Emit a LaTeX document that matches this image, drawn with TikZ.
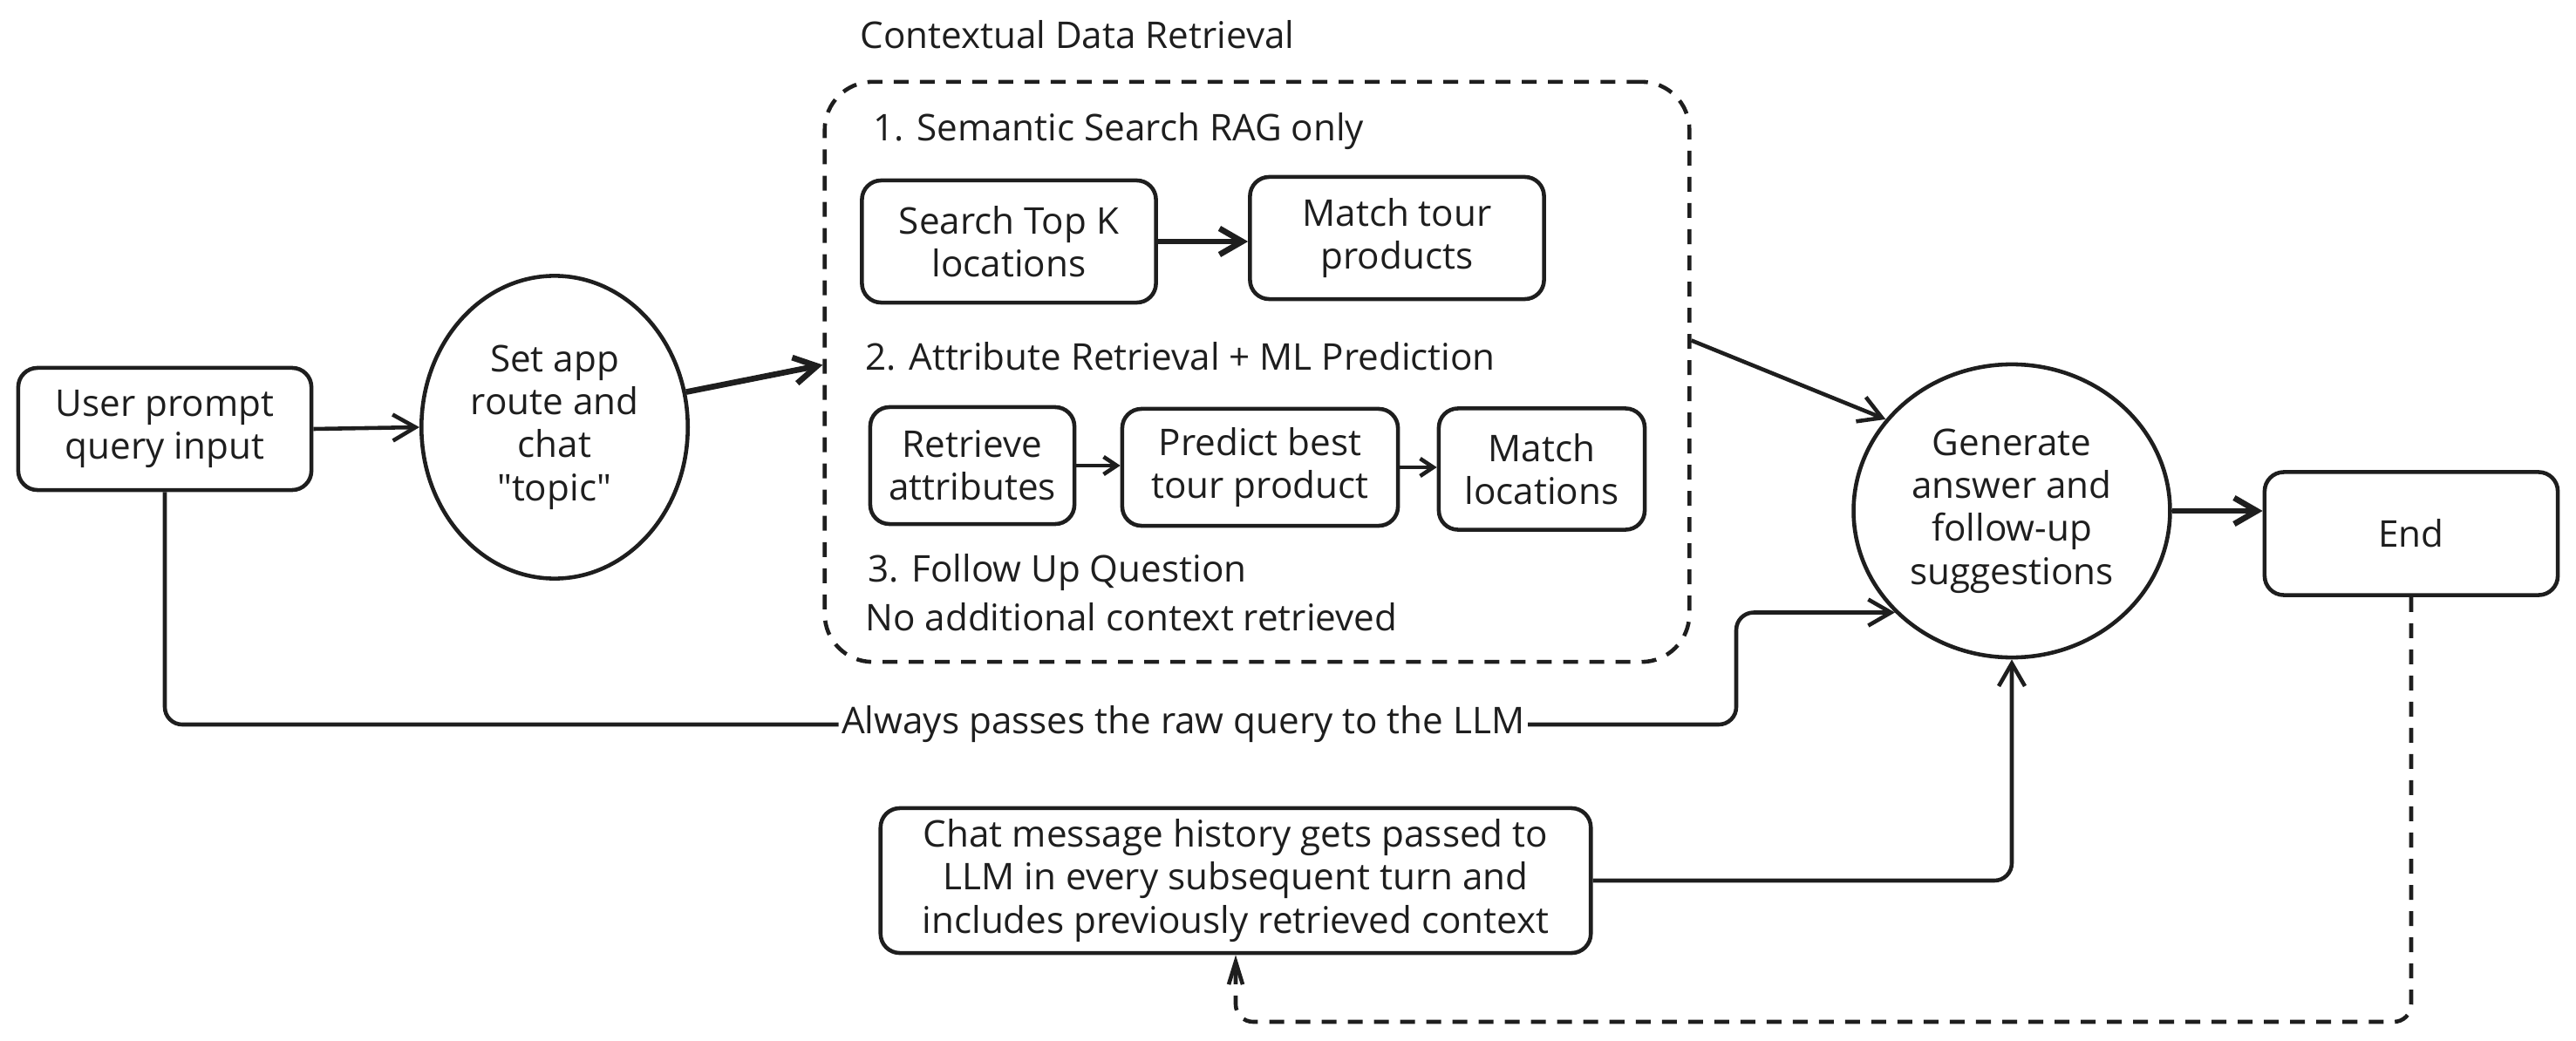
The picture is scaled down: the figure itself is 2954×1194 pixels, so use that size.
\documentclass[tikz,border=0pt]{standalone}
\usepackage{fontspec}
\setmainfont{Open Sans}[Ligatures=TeXOff]
\usetikzlibrary{arrows.meta,shapes.geometric,positioning}
\definecolor{ink}{HTML}{1E1E1E}

\begin{document}
\begin{tikzpicture}[x=0.01cm, y=-0.01cm,
		every node/.style={font=\fontsize{12}{14}\selectfont, text=ink},
		box/.style={draw=ink, line width=1.3pt, rounded corners=0.22cm, align=center, inner sep=2pt},
		group/.style={draw=ink, line width=1.3pt, dash pattern=on 0.17cm off 0.13cm, rounded corners=0.55cm},
		conn/.style={draw=ink, line width=1.3pt, -{Straight Barb[length=0.26cm,width=0.3cm]}},
		bold/.style={conn, line width=1.9pt},
		small/.style={draw=ink, line width=1.3pt, -{Straight Barb[length=0.15cm,width=0.2cm]}},
		dashline/.style={draw=ink, line width=1.3pt, dash pattern=on 0.17cm off 0.13cm, -{Straight Barb[length=0.26cm,width=0.16cm]}}]
		\useasboundingbox (0,0) rectangle (2954,1194);
		\node [box, minimum width=3.36cm, minimum height=1.4cm] (user) at (189,492) {User prompt\\query input};
		\node [ellipse, draw=ink, line width=1.3pt, minimum width=3.0cm, minimum height=3.47cm, align=center] (route) at (636,490) {Set app\\route and\\chat\\"topic"};
		\node [group, minimum width=9.91cm, minimum height=6.65cm] (ctx) at (1441.5,426.5) {};
		\node [anchor=west] (ctxtitle) at (974,40) {Contextual Data Retrieval};
		\node [anchor=west] (sem) at (989,151) {1. Semantic Search RAG only};
		\node [box, minimum width=3.37cm, minimum height=1.4cm] (topk) at (1157,277) {Search Top K\\locations};
		\node [box, minimum width=3.37cm, minimum height=1.4cm] (tours) at (1602,273) {Match tour\\products};
		\node [anchor=west] (attr) at (980,409) {2. Attribute Retrieval + ML Prediction};
		\node [box, minimum width=2.34cm, minimum height=1.34cm] (attrs) at (1115,534) {Retrieve\\attributes};
		\node [box, minimum width=3.16cm, minimum height=1.34cm] (predict) at (1445,536) {Predict best\\tour product};
		\node [box, minimum width=2.36cm, minimum height=1.39cm] (locs) at (1768,538) {Match\\locations};
		\node [anchor=west] (follow) at (983,657) {3. Follow Up Question};
		\node [anchor=west] (nocontext) at (980,708) {No additional context retrieved};
		\node [ellipse, draw=ink, line width=1.3pt, minimum width=3.58cm, minimum height=3.36cm, align=center] (answer) at (2307,586) {Generate\\answer and\\follow-up\\suggestions};
		\node [box, minimum width=3.36cm, minimum height=1.41cm] (end) at (2765,612) {End};
		\node [box, minimum width=8.14cm, minimum height=1.66cm] (history) at (1417,1010) {Chat message history gets passed to\\LLM in every subsequent turn and\\includes previously retrieved context};
		\coordinate (bend) at (1991,831);
		\coordinate (loopbase) at (2765,1172);
		\draw [conn] (user.east) -- (route.west);
		\draw [bold] (route.15) -- ([yshift=0.08cm]ctx.west);
		\draw [bold] (topk.east) -- (topk.east -| tours.west);
		\draw [small] (attrs.east) -- (attrs.east -| predict.west);
		\draw [small] (predict.east) -- (predict.east -| locs.west);
		\draw [conn] ([yshift=0.36cm]ctx.east) -- (answer.144);
		\draw [bold] (answer.east) -- (answer.east -| end.west);
		\draw [conn, rounded corners=0.2cm] (user.south) |- node [pos=0.824, fill=white, inner sep=1pt] (rawq) {Always passes the raw query to the LLM} (bend) |- (answer.-139);
		\draw [conn, rounded corners=0.2cm] (history.east) -| (answer.south);
		\draw [dashline, rounded corners=0.2cm] (end.south) -- (loopbase) -| (history.south);
	\end{tikzpicture}
\end{document}
